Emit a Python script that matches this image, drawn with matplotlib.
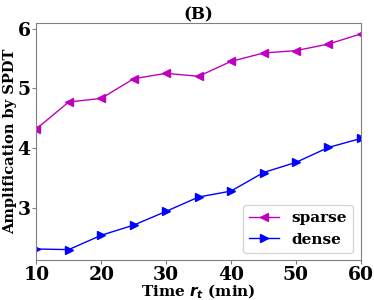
import matplotlib
matplotlib.use('Agg')
import matplotlib.pyplot as plt

# Data
times = [10, 15, 20, 25, 30, 35, 40, 45, 50, 55, 60]
sparse = [4.32, 4.77, 4.83, 5.16, 5.25, 5.20, 5.45, 5.59, 5.63, 5.74, 5.91]
dense = [2.31, 2.30, 2.54, 2.71, 2.94, 3.18, 3.28, 3.59, 3.76, 4.01, 4.16]

plt.rcParams['font.family'] = 'DejaVu Serif'
plt.rcParams['font.weight'] = 'bold'

fig, ax = plt.subplots(figsize=(3.74, 3.0), dpi=100)
ax.plot(times, sparse, color='m', marker='<', markersize=6, linewidth=1, label='sparse')
ax.plot(times, dense, color='b', marker='>', markersize=6, linewidth=1, label='dense')

ax.set_xlim(10, 60)
ax.set_xticks([10, 20, 30, 40, 50, 60])
ax.set_yticks([3, 4, 5, 6])
ax.tick_params(labelsize=13.5, color='gray', length=3, pad=1)
for lab in ax.get_xticklabels() + ax.get_yticklabels():
    lab.set_fontweight('bold')
for s in ax.spines.values():
    s.set_color('gray')

ax.set_xlabel('Time $r_t$ (min)', fontsize=11, fontweight='bold', labelpad=-1)
ax.set_ylabel('Amplification by SPDT', fontsize=10.5, fontweight='bold')
ax.yaxis.set_label_coords(-0.06, 0.5)
ax.set_title('(B)', fontsize=12, fontweight='bold', pad=3)
ax.legend(loc='lower right', prop={'size': 11, 'weight': 'bold'})

fig.subplots_adjust(left=0.097, right=0.965, top=0.923, bottom=0.132)
fig.savefig('out.png', dpi=100)
